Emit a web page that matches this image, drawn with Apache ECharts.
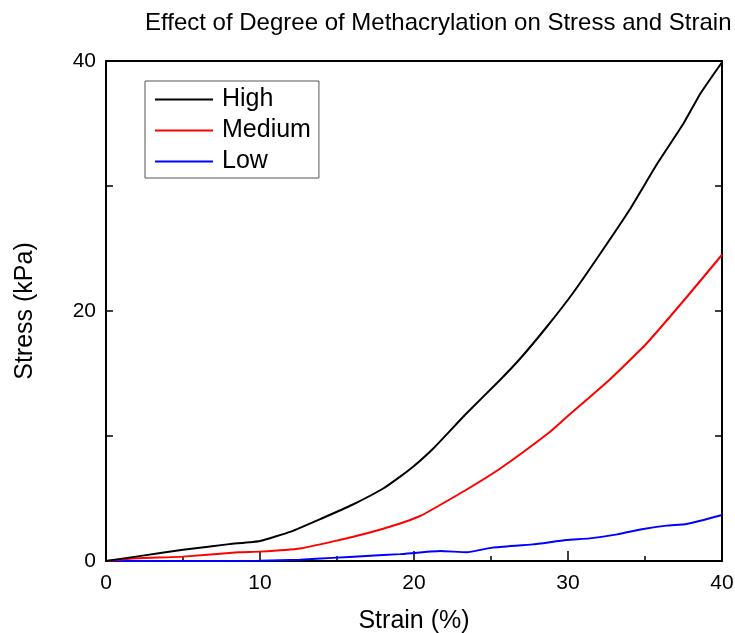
<!DOCTYPE html>
<html>
<head>
<meta charset="utf-8">
<script src="https://cdn.jsdelivr.net/npm/echarts@6/dist/echarts.min.js"></script>
<style>html,body{margin:0;padding:0;background:#fff}#c{width:735px;height:633px}</style>
</head>
<body>
<div id="c"></div>
<script>
const titleText = 'Effect of Degree of Methacrylation on Stress and Strain';
const xName = 'Strain (%)';
const yName = 'Stress (kPa)';
const seriesNames = ['High', 'Medium', 'Low'];

const highX = [0, 2.5, 5, 8, 10, 12, 14, 16, 18, 19.1, 20, 21.25, 23.4, 25.6, 26.9, 28.6, 30.3, 32.1, 34.0, 35.8, 37.5, 38.6, 40];
const highY = [0, 0.45, 0.9, 1.35, 1.6, 2.35, 3.4, 4.5, 5.8, 6.75, 7.6, 9.0, 11.8, 14.5, 16.2, 18.7, 21.4, 24.6, 28.1, 31.8, 35.0, 37.4, 39.9];

const medX = [0, 1.75, 5, 8.6, 10, 12.6, 14.7, 16.9, 19.1, 20.4, 21.15, 23.4, 25.6, 28.8, 29.9, 32.7, 35.1, 37.7, 40];
const medY = [0, 0.2, 0.35, 0.7, 0.75, 1.0, 1.55, 2.2, 3.0, 3.6, 4.1, 5.7, 7.4, 10.3, 11.5, 14.5, 17.4, 21.1, 24.5];

const lowX = [0, 5, 10, 12.6, 14.7, 16.9, 19.1, 21.7, 23.4, 25.1, 27.7, 29.9, 31.4, 33.2, 34.9, 36.4, 37.7, 38.8, 40];
const lowY = [0, 0, 0.02, 0.1, 0.25, 0.4, 0.55, 0.8, 0.7, 1.07, 1.33, 1.68, 1.81, 2.13, 2.56, 2.83, 2.96, 3.28, 3.68];

const colors = ['#000000', '#ff0000', '#0000ff'];
const zip = (a, b) => a.map((v, i) => [v, b[i]]);
const seriesData = [zip(highX, highY), zip(medX, medY), zip(lowX, lowY)];

const font = 'Arial, "Liberation Sans", sans-serif';
const chart = echarts.init(document.getElementById('c'), null, {renderer: 'canvas'});
const axisLine = {show: true, onZero: false, lineStyle: {color: '#000', width: 2}};
chart.setOption({
  backgroundColor: '#fff',
  animation: false,
  title: {
    text: titleText, left: 140, top: 6,
    textStyle: {fontFamily: font, fontSize: 24, fontWeight: 'normal', color: '#000'}
  },
  legend: {
    orient: 'vertical', left: 145, top: 81,
    padding: [6, 8, 4, 10], itemGap: 6,
    itemWidth: 58, itemHeight: 2, icon: 'rect',
    borderColor: '#555', borderWidth: 1, borderRadius: 0,
    textStyle: {fontFamily: font, fontSize: 25, color: '#000', padding: [0, 0, 0, 4]},
    data: seriesNames
  },
  grid: {left: 106, right: 13, top: 61, bottom: 72, containLabel: false, outerBoundsMode: 'none'},
  xAxis: [{
    type: 'value', min: 0, max: 40, interval: 10, position: 'bottom',
    name: xName, nameLocation: 'middle', nameGap: 48,
    nameTextStyle: {fontFamily: font, fontSize: 25, color: '#000'},
    axisLine: axisLine,
    axisTick: {show: true, inside: true, length: 10, lineStyle: {color: '#000', width: 1.5}},
    minorTick: {show: true, splitNumber: 2, length: 5, lineStyle: {color: '#000', width: 1.5}},
    axisLabel: {fontFamily: font, fontSize: 21, color: '#000', margin: 12},
    splitLine: {show: false}
  }, {
    type: 'value', min: 0, max: 40, position: 'top',
    axisLine: axisLine, axisTick: {show: false}, axisLabel: {show: false}, splitLine: {show: false}
  }],
  yAxis: [{
    type: 'value', min: 0, max: 40, interval: 10, position: 'left',
    name: yName, nameLocation: 'middle', nameGap: 68,
    nameTextStyle: {fontFamily: font, fontSize: 25, color: '#000'},
    axisLine: axisLine,
    axisTick: {show: true, inside: true, length: 7, lineStyle: {color: '#000', width: 1.5}},
    axisLabel: {fontFamily: font, fontSize: 21, color: '#000', margin: 10,
      formatter: v => (v % 20 === 0 ? String(v) : '')},
    splitLine: {show: false}
  }, {
    type: 'value', min: 0, max: 40, interval: 10, position: 'right',
    axisLine: axisLine,
    axisTick: {show: true, inside: true, length: 7, lineStyle: {color: '#000', width: 1.5}},
    axisLabel: {show: false}, splitLine: {show: false}
  }],
  series: seriesNames.map((n, i) => ({
    name: n, type: 'line', data: seriesData[i],
    xAxisIndex: 0, yAxisIndex: 0,
    showSymbol: false, symbol: 'none', smooth: 0.15, clip: false,
    lineStyle: {color: colors[i], width: 2},
    itemStyle: {color: colors[i]},
    z: 5 - i
  }))
});
</script>
</body>
</html>
